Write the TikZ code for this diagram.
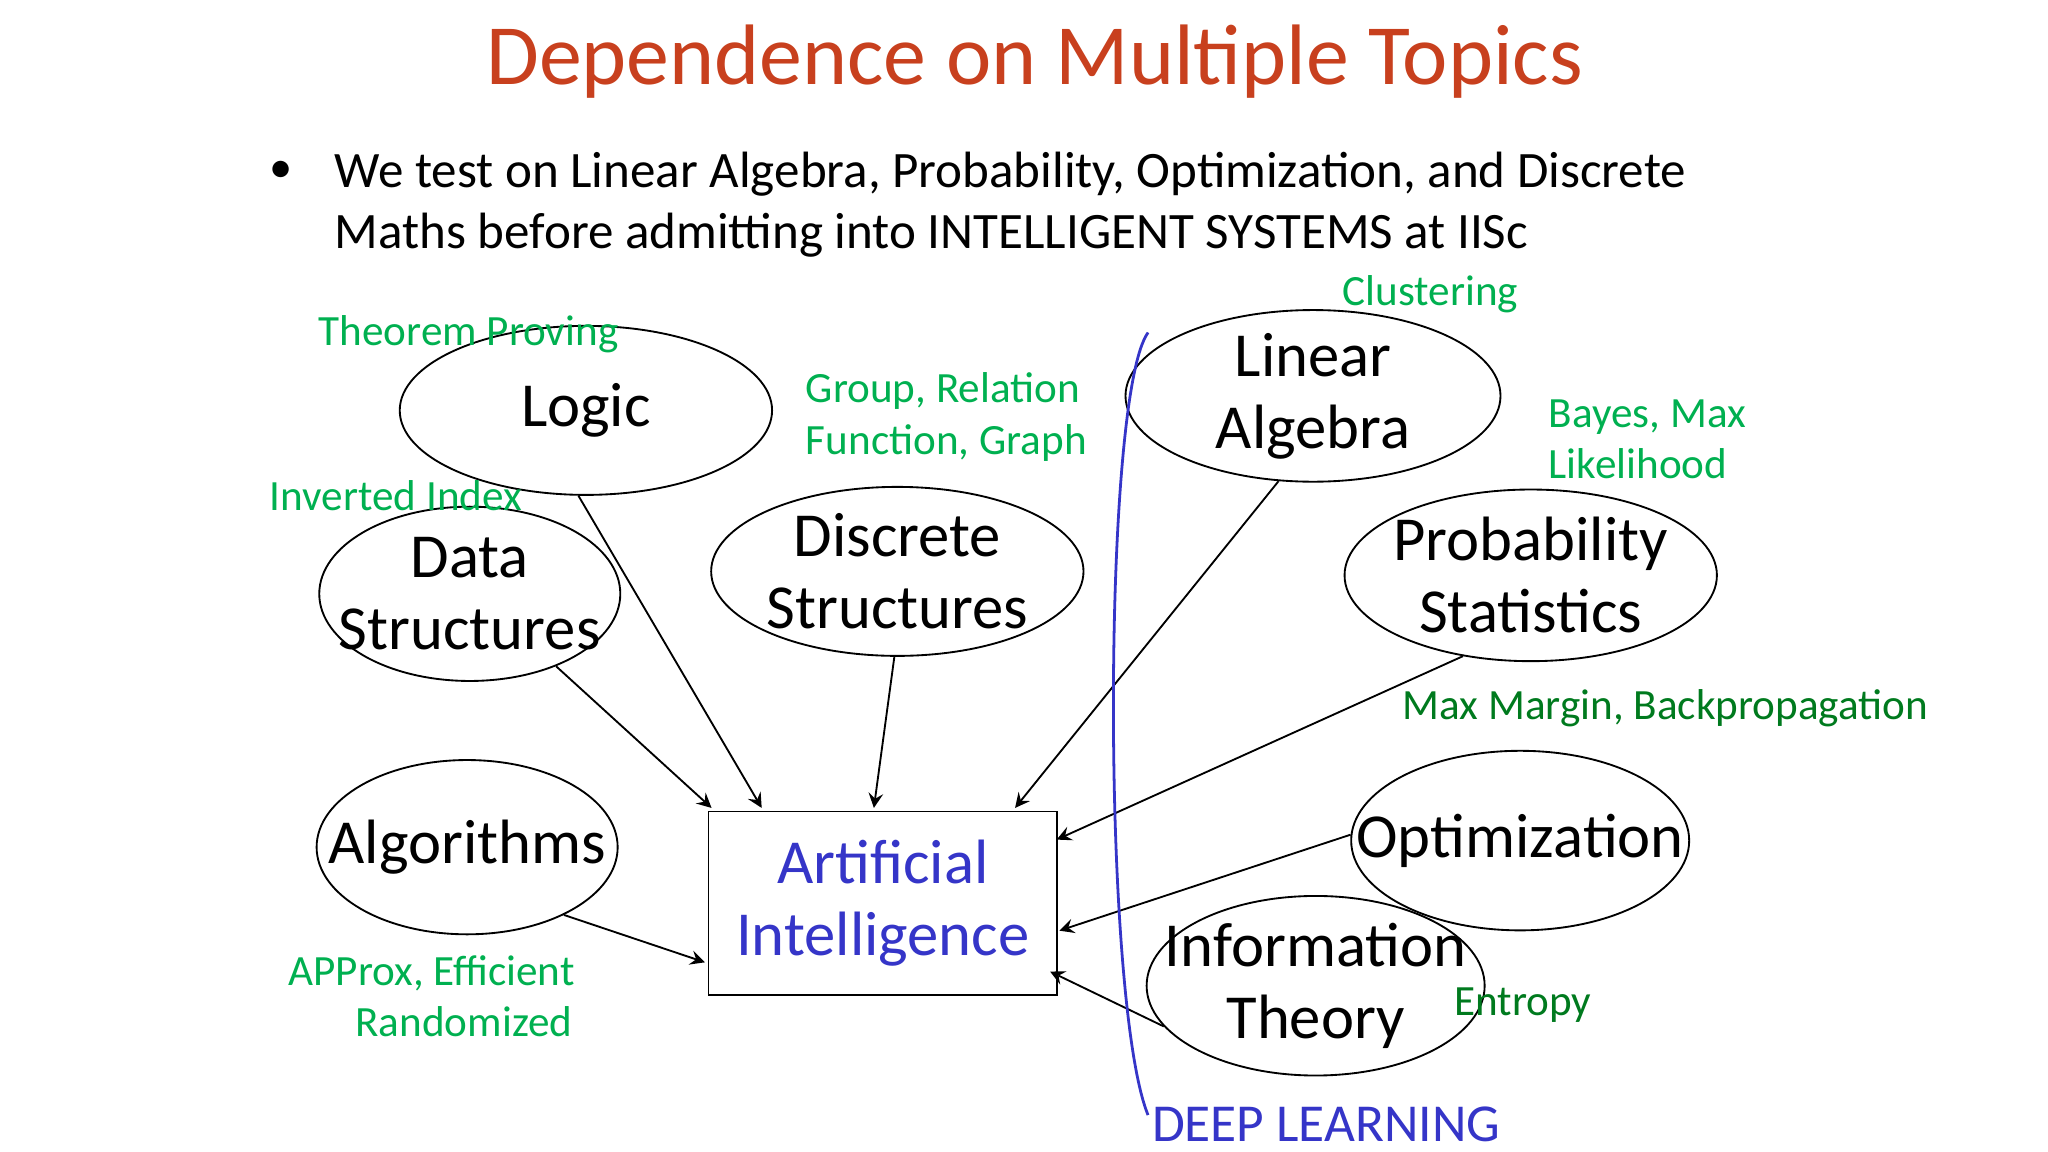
\documentclass[tikz,border=0pt]{standalone}
\usepackage{fontspec}
\setmainfont{Carlito}
\usetikzlibrary{shapes.geometric,calc}
\definecolor{lgreen}{HTML}{00B050}
\definecolor{dgreen}{HTML}{007A1E}
\definecolor{aiblue}{HTML}{3535C8}
\definecolor{titlered}{HTML}{C8401E}
\begin{document}
\begin{tikzpicture}[x=0.01cm,y=-0.01cm,
  topic/.style={ellipse,draw,thin,inner sep=0pt},
  tt/.style={align=center,inner sep=0pt,font=\fontsize{13.5}{15.5}\selectfont},
  lab/.style={text=lgreen,font=\fontsize{9.3}{11}\selectfont,inner sep=0pt},
  dlab/.style={text=dgreen,font=\fontsize{9.3}{11}\selectfont,inner sep=0pt},
  arr/.style={-stealth,thin}]
\useasboundingbox (0,0) rectangle (1552,873);
\node[text=titlered,font=\fontsize{18.5}{22}\selectfont] (title) at (784,47) {Dependence on Multiple Topics};
\node[font=\fontsize{10}{12}\selectfont] (bul) at (213,130) {•};
\node[anchor=west,align=left,font=\fontsize{11}{13.3}\selectfont,inner sep=0pt] (txt) at (253,155) {We test on Linear Algebra, Probability, Optimization, and Discrete\\Maths before admitting into INTELLIGENT SYSTEMS at IISc};

\node[topic,minimum width=2.82cm,minimum height=1.28cm,label={[tt]center:Logic}] (logic) at (444,311) {};
\node[topic,minimum width=2.28cm,minimum height=1.32cm,label={[tt]center:Data\\Structures}] (ds) at (356,450) {};
\node[topic,minimum width=2.82cm,minimum height=1.28cm,label={[tt]center:Discrete\\Structures}] (disc) at (680,433) {};
\node[topic,minimum width=2.84cm,minimum height=1.30cm,label={[tt]center:Linear\\Algebra}] (lin) at (995,300) {};
\node[topic,minimum width=2.82cm,minimum height=1.30cm,label={[tt]center:Probability\\Statistics}] (prob) at (1160,436) {};
\node[topic,minimum width=2.28cm,minimum height=1.32cm,label={[tt]center:Algorithms}] (algo) at (354,642) {};
\node[topic,minimum width=2.56cm,minimum height=1.36cm,label={[tt]center:Optimization}] (opt) at (1152,637) {};
\node[topic,minimum width=2.56cm,minimum height=1.36cm,label={[tt]center:Information\\Theory}] (info) at (997,747) {};
\node[draw,thin,minimum width=2.64cm,minimum height=1.39cm,inner sep=0pt,align=center,text=aiblue,font=\fontsize{13.5}{15.5}\selectfont] (ai) at (669,684.5) {Artificial\\Intelligence};

\draw[arr] (logic.-95) -- ($(ai.north west)+(41,-2)$);
\draw[arr] (ds.-40) -- ($(ai.north west)+(3,-2)$);
\draw[arr] (disc.-92) -- ($(ai.north west)+(126,-2)$);
\draw[arr] (lin.-112) -- ($(ai.north west)+(233,-2)$);
\draw[arr] (prob.-130) -- ($(ai.north east)+(-1,22)$);
\draw[arr] (opt.178) -- ($(ai.north east)+(1,91)$);
\draw[arr] (info.-165) -- ($(ai.north east)+(-6,122)$);
\draw[arr] (algo.-35) -- ($(ai.north west)+(-2,115)$);

\coordinate (dltop) at (870,252);
\coordinate (dlbot) at (870,845);
\draw[aiblue,semithick] (dltop) .. controls (835,300) and (835,760) .. (dlbot);
\node[text=aiblue,font=\fontsize{11.5}{14}\selectfont,inner sep=0pt] (dl) at (1005,852) {DEEP LEARNING};

\node[lab] (l1) at (355,253) {Theorem Proving};
\node[lab,anchor=west,align=left] (l2) at (610,316) {Group, Relation\\Function, Graph};
\node[lab] (l3) at (300,376) {Inverted Index};
\node[lab] (l4) at (1084,223) {Clustering};
\node[lab,anchor=west,align=left] (l5) at (1173,333) {Bayes, Max\\Likelihood};
\node[dlab] (l6) at (1262,537) {Max Margin, Backpropagation};
\node[lab,align=center] (l7) at (327,755) {APProx, Efficient\\\hspace*{1.5em}Randomized};
\node[dlab] (l8) at (1154,762) {Entropy};
\end{tikzpicture}
\end{document}
